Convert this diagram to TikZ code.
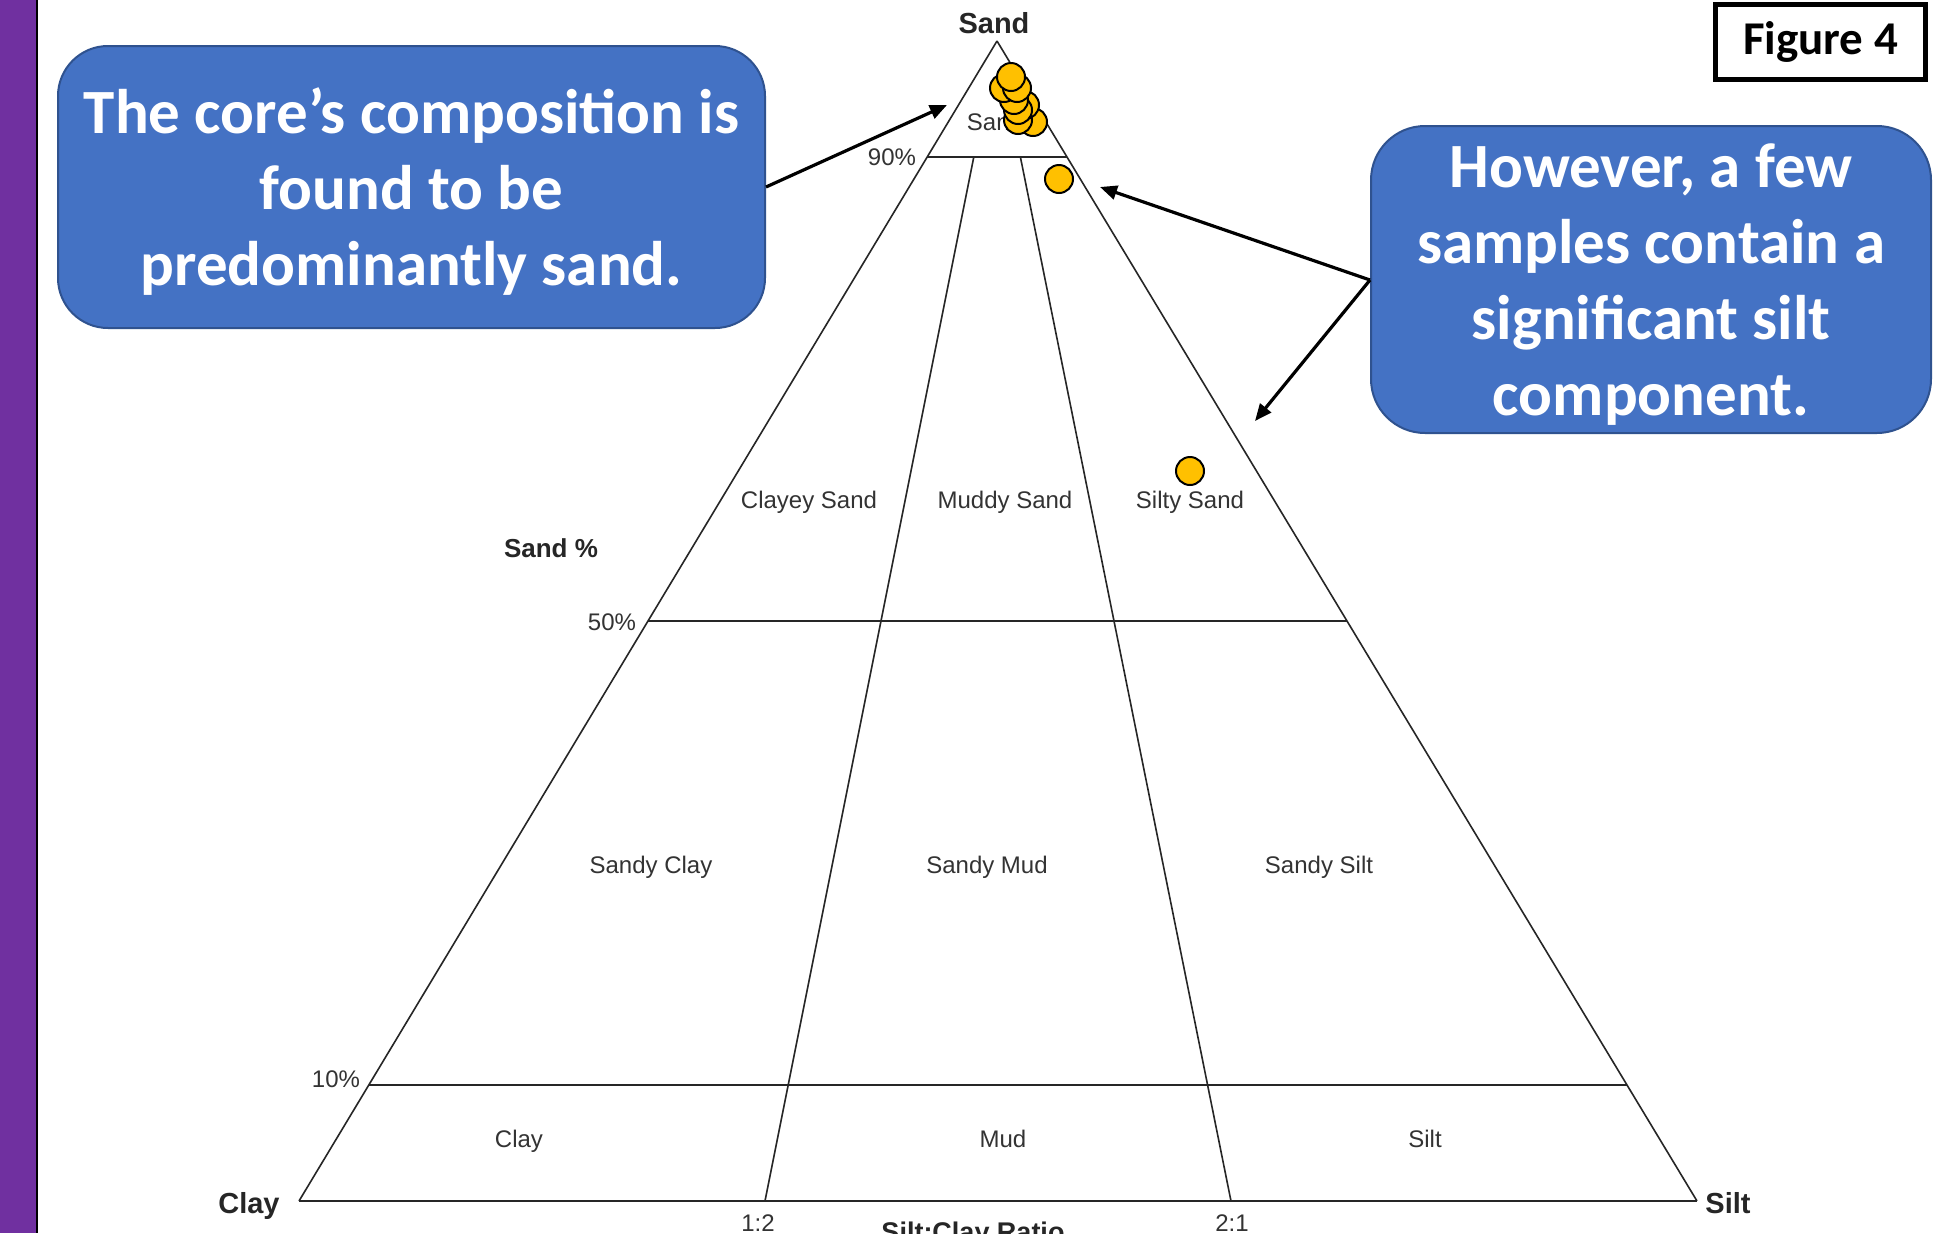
\documentclass[tikz,border=0pt]{standalone}
\usepackage{fontspec}
\setmainfont{Liberation Sans}
\newfontfamily\calfont{Carlito}
\usetikzlibrary{calc,arrows.meta}
\definecolor{boxblue}{HTML}{4472C4}
\definecolor{boxedge}{HTML}{2F528F}
\definecolor{barpurple}{HTML}{7030A0}
\definecolor{dotyellow}{HTML}{FFC000}
\definecolor{labgray}{HTML}{333333}
\begin{document}
\begin{tikzpicture}[x=0.5pt,y=-0.5pt,
  tri/.style={line width=0.8pt, draw=black!85},
  lab/.style={anchor=base, inner sep=0pt, text=labgray, font=\fontsize{12}{14}\selectfont},
  corner/.style={anchor=base, inner sep=0pt, text=black!85, font=\bfseries\fontsize{14.5}{17}\selectfont},
  callout/.style={fill=boxblue, draw=boxedge, line width=1pt, rounded corners=25pt, inner sep=0pt},
  callouttext/.style={text=white, align=center, inner sep=0pt, font=\calfont\bfseries\fontsize{31.5}{38}\selectfont},
  sample/.style={fill=dotyellow, draw=black, line width=1pt},
  arr/.style={line width=1.6pt, -{Triangle[length=8.5pt,width=7pt]}}]
\useasboundingbox (0,0) rectangle (1951,1233);
\fill[white] (0,0) rectangle (1951,1233);
\fill[barpurple] (0,0) rectangle (36,1233);
\draw[line width=1pt] (37,0) -- (37,1233);

% triangle
\coordinate (A) at (997,41);
\coordinate (C) at (299,1201);
\coordinate (S) at (1697,1201);
\coordinate (n90L) at ($(A)!0.1!(C)$);
\coordinate (n90R) at ($(A)!0.1!(S)$);
\coordinate (n50L) at ($(A)!0.5!(C)$);
\coordinate (n50R) at ($(A)!0.5!(S)$);
\coordinate (n10L) at ($(A)!0.9!(C)$);
\coordinate (n10R) at ($(A)!0.9!(S)$);
\coordinate (d1T) at ($(n90L)!1/3!(n90R)$);
\coordinate (d2T) at ($(n90L)!2/3!(n90R)$);
\coordinate (d1B) at ($(C)!1/3!(S)$);
\coordinate (d2B) at ($(C)!2/3!(S)$);
\draw[tri] (A) -- (C);
\draw[tri] (A) -- (S);
\draw[tri, line width=1pt] (C) -- (S);
\draw[tri] (n90L) -- (n90R);
\draw[tri] (n50L) -- (n50R);
\draw[tri] (n10L) -- (n10R);
\draw[tri] (d1T) -- (d1B);
\draw[tri] (d2T) -- (d2B);

% labels
\node[corner] (lSand) at (994,33) {Sand};
\node[corner] (lClay) at (249,1213) {Clay};
\node[corner] (lSilt) at (1728,1213) {Silt};
\node[corner, font=\bfseries\fontsize{13}{15}\selectfont] (lSandPct) at (551,557) {Sand \%};
\node[lab] (lSandIn) at (995,130.5) {Sand};
\node[lab] (l90) at (892,165.5) {90\%};
\node[lab] (l50) at (612,630.5) {50\%};
\node[lab] (l10) at (336,1087.5) {10\%};
\node[lab] (lCS) at (809,508.5) {Clayey Sand};
\node[lab] (lMS) at (1005,508.5) {Muddy Sand};
\node[lab] (lSS) at (1190,508.5) {Silty Sand};
\node[lab] (lSC) at (651,873.5) {Sandy Clay};
\node[lab] (lSM) at (987,873.5) {Sandy Mud};
\node[lab] (lSSi) at (1319,873.5) {Sandy Silt};
\node[lab] (lC) at (519,1147.5) {Clay};
\node[lab] (lM) at (1003,1147.5) {Mud};
\node[lab] (lSi) at (1425,1147.5) {Silt};
\node[lab] (r12) at (758,1231) {1:2};
\node[lab] (r21) at (1232,1231) {2:1};
\node[corner, font=\bfseries\fontsize{13.5}{16}\selectfont] (ratio) at (973,1241) {Silt:Clay Ratio};

% samples
\foreach \px/\py in {1033/122, 1018/120, 1025/105, 1018/110, 1014/100, 1004/88, 1017/88, 1011/77, 1059/179, 1190/471}
  \draw[sample] (\px,\py) circle[radius=7pt];

% callouts
\node[callout, minimum width=353.5pt, minimum height=141pt] (boxL) at (411.5,187) {};
\node[callouttext] (textL) at ($(boxL.center)+(0,5)$)
  {The core’s composition is\\found to be\\predominantly sand.};
\node[callout, rounded corners=27pt, minimum width=280pt, minimum height=153.5pt] (boxR) at (1651,279.5) {};
\node[callouttext] (textR) at ($(boxR.center)+(0,5)$)
  {However, a few\\samples contain a\\significant silt\\component.};

\node[draw=black, line width=2.5pt, minimum width=105pt, minimum height=37.5pt, inner sep=0pt,
  font=\calfont\bfseries\fontsize{23.5}{28}\selectfont] (fig) at (1820.5,42) {Figure 4\hspace{6pt}};

% arrows
\coordinate (tipL) at (947,105);
\coordinate (tipR1) at (1100,187);
\coordinate (tipR2) at (1255,421);
\draw[arr] (boxL.east |- 0,187) -- (tipL);
\draw[arr] (boxR.west |- 0,280) -- (tipR1);
\draw[arr] (boxR.west |- 0,280) -- (tipR2);
\end{tikzpicture}
\end{document}
